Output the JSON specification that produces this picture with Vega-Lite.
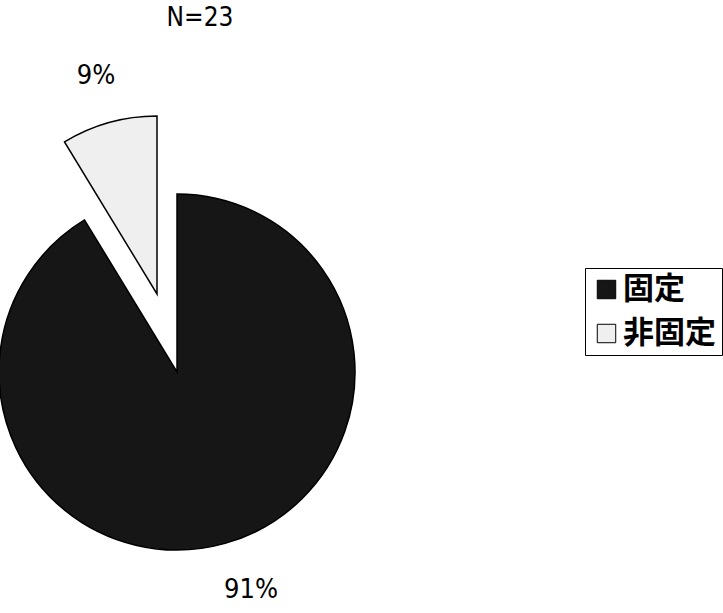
{
  "$schema": "https://vega.github.io/schema/vega-lite/v6.json",
  "autosize": "none",
  "width": 354,
  "height": 480,
  "padding": {"left": 0, "top": 132, "right": 369, "bottom": 1},
  "background": "white",
  "view": {"stroke": null},
  "title": {
    "text": "N=23",
    "font": "DejaVu Sans Condensed, Liberation Sans, sans-serif",
    "fontSize": 26,
    "fontWeight": "normal",
    "color": "black",
    "anchor": "middle",
    "dx": 23,
    "offset": 31
  },
  "data": {
    "values": [
      {"cat": "固定", "count": 21, "label": "91%", "order": 1},
      {"cat": "非固定", "count": 2, "label": "9%", "order": 2}
    ]
  },
  "transform": [
    {"stack": "count", "groupby": [], "sort": [{"field": "order", "order": "ascending"}], "as": ["v0", "v1"]},
    {"calculate": "(datum.v0 + datum.v1) / 2", "as": "mid"}
  ],
  "encoding": {
    "color": {
      "field": "cat",
      "type": "nominal",
      "scale": {"domain": ["固定", "非固定"], "range": ["#161616", "#efefef"]},
      "legend": {
        "title": null,
        "orient": "none",
        "legendX": 585,
        "legendY": 136,
        "strokeColor": "black",
        "padding": 6,
        "symbolType": "square",
        "symbolSize": 340,
        "symbolStrokeColor": "black",
        "symbolStrokeWidth": 1,
        "symbolOpacity": 1,
        "labelFont": "Noto Sans CJK JP",
        "labelFontSize": 31,
        "labelFontWeight": "bold",
        "labelColor": "black",
        "labelOffset": 1,
        "rowPadding": 12,
        "labelLimit": 300
      }
    }
  },
  "layer": [
    {
      "transform": [{"filter": "datum.cat === '固定'"}],
      "mark": {"type": "arc", "radius": 178, "stroke": "black", "strokeWidth": 1.5},
      "encoding": {
        "theta": {"field": "v0", "type": "quantitative", "scale": {"domain": [0, 23]}},
        "theta2": {"field": "v1"}
      }
    },
    {
      "transform": [{"filter": "datum.cat === '非固定'"}],
      "mark": {"type": "arc", "radius": 178, "stroke": "black", "strokeWidth": 1.5, "xOffset": -20, "yOffset": -78},
      "encoding": {
        "theta": {"field": "v0", "type": "quantitative", "scale": {"domain": [0, 23]}},
        "theta2": {"field": "v1"}
      }
    },
    {
      "transform": [{"filter": "datum.cat === '固定'"}],
      "mark": {"type": "text", "radius": 226, "dx": 13, "font": "DejaVu Sans Condensed, Liberation Sans, sans-serif", "fontSize": 27, "fill": "black"},
      "encoding": {
        "theta": {"field": "mid", "type": "quantitative", "scale": {"domain": [0, 23]}},
        "text": {"field": "label", "type": "nominal"},
        "color": {"value": "black"}
      }
    },
    {
      "transform": [{"filter": "datum.cat === '非固定'"}],
      "mark": {"type": "text", "radius": 226, "font": "DejaVu Sans Condensed, Liberation Sans, sans-serif", "fontSize": 27, "fill": "black", "xOffset": -20, "yOffset": -78},
      "encoding": {
        "theta": {"field": "mid", "type": "quantitative", "scale": {"domain": [0, 23]}},
        "text": {"field": "label", "type": "nominal"},
        "color": {"value": "black"}
      }
    }
  ]
}
